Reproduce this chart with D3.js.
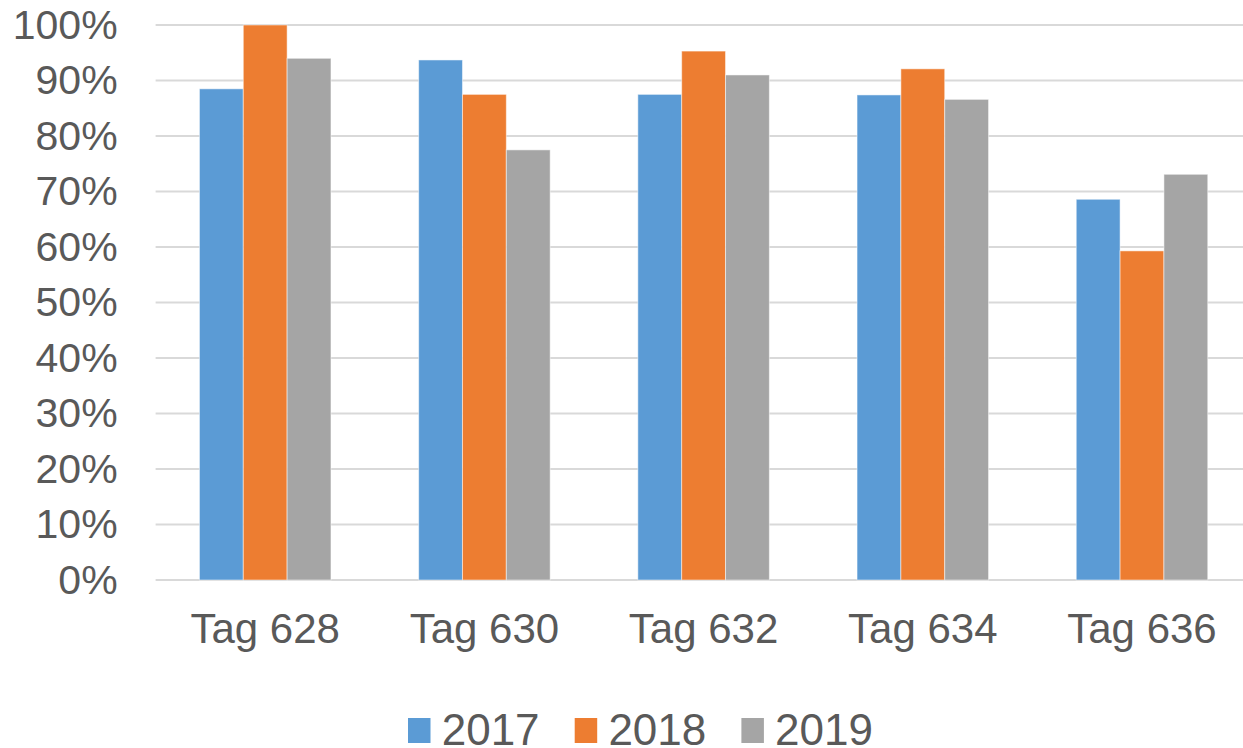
<!DOCTYPE html>
<html>
<head>
<meta charset="utf-8">
<script src="https://cdn.jsdelivr.net/npm/d3@7"></script>
<style>
  body { margin: 0; background: #fff; }
  svg { display: block; }
  text { font-family: "Liberation Sans", Arial, sans-serif; fill: #595959; }
</style>
</head>
<body>
<div></div>
<script>
var width = 1243;
var height = 748;

// data
var categories = ["Tag 628", "Tag 630", "Tag 632", "Tag 634", "Tag 636"];
var years = ["2017", "2018", "2019"];
var values2017 = [0.885, 0.937, 0.875, 0.874, 0.686];
var values2018 = [1.000, 0.875, 0.953, 0.921, 0.593];
var values2019 = [0.940, 0.775, 0.910, 0.866, 0.731];
var yTicks = [0, 0.1, 0.2, 0.3, 0.4, 0.5, 0.6, 0.7, 0.8, 0.9, 1];
var colors = ["#5B9BD5", "#ED7D31", "#A5A5A5"];

var series = [values2017, values2018, values2019];

var svg = d3.select("div")
	.append("svg")
	.attr("width", width)
	.attr("height", height);

var plotLeft = 155.6, plotRight = 1251.6, plotTop = 25, plotBottom = 580;

var x0 = d3.scaleBand()
	.domain(categories)
	.range([plotLeft, plotRight])
	.paddingInner(0.4)
	.paddingOuter(0.2);

var x1 = d3.scaleBand()
	.domain(years)
	.range([0, x0.bandwidth()]);

var y = d3.scaleLinear()
	.domain([0, 1])
	.range([plotBottom, plotTop]);

// gridlines
svg.append("g")
	.selectAll("line")
	.data(yTicks)
	.enter()
	.append("line")
	.attr("x1", plotLeft)
	.attr("x2", plotRight)
	.attr("y1", d => y(d))
	.attr("y2", d => y(d))
	.attr("stroke", "#D9D9D9")
	.attr("stroke-width", 2);

// bars
var groups = svg.append("g")
	.selectAll("g")
	.data(categories)
	.enter()
	.append("g")
	.attr("transform", d => "translate(" + x0(d) + ",0)");

groups.selectAll("rect")
	.data((cat, i) => years.map((yr, j) => ({ year: yr, value: series[j][i], color: colors[j] })))
	.enter()
	.append("rect")
	.attr("x", d => x1(d.year))
	.attr("y", d => y(d.value))
	.attr("width", x1.bandwidth())
	.attr("height", d => plotBottom - y(d.value))
	.attr("fill", d => d.color)
	.attr("stroke", "#fff")
	.attr("stroke-opacity", 0.5)
	.attr("stroke-width", 1);

// y axis
var yAxis = svg.append("g")
	.attr("transform", "translate(" + plotLeft + ",0)")
	.call(d3.axisLeft(y).tickValues(yTicks).tickFormat(d3.format(".0%")).tickSize(0).tickPadding(38));
yAxis.select(".domain").remove();
yAxis.selectAll("text")
	.attr("font-size", 41)
	.attr("font-family", "Liberation Sans, Arial, sans-serif")
	.attr("fill", "#595959");

// x axis
var xAxis = svg.append("g")
	.attr("transform", "translate(0," + plotBottom + ")")
	.call(d3.axisBottom(x0).tickSize(0).tickPadding(33));
xAxis.select(".domain").remove();
xAxis.selectAll("text")
	.attr("font-size", 42)
	.attr("font-family", "Liberation Sans, Arial, sans-serif")
	.attr("fill", "#595959");

// legend
var legend = svg.append("g")
	.selectAll("g")
	.data(years)
	.enter()
	.append("g")
	.attr("transform", (d, i) => "translate(" + (408 + i * 166.7) + ",718)");

legend.append("rect")
	.attr("width", 22.5)
	.attr("height", 25)
	.attr("fill", (d, i) => colors[i]);

legend.append("text")
	.attr("x", 33.7)
	.attr("y", 27)
	.attr("font-size", 44)
	.text(d => d);
</script>
</body>
</html>
